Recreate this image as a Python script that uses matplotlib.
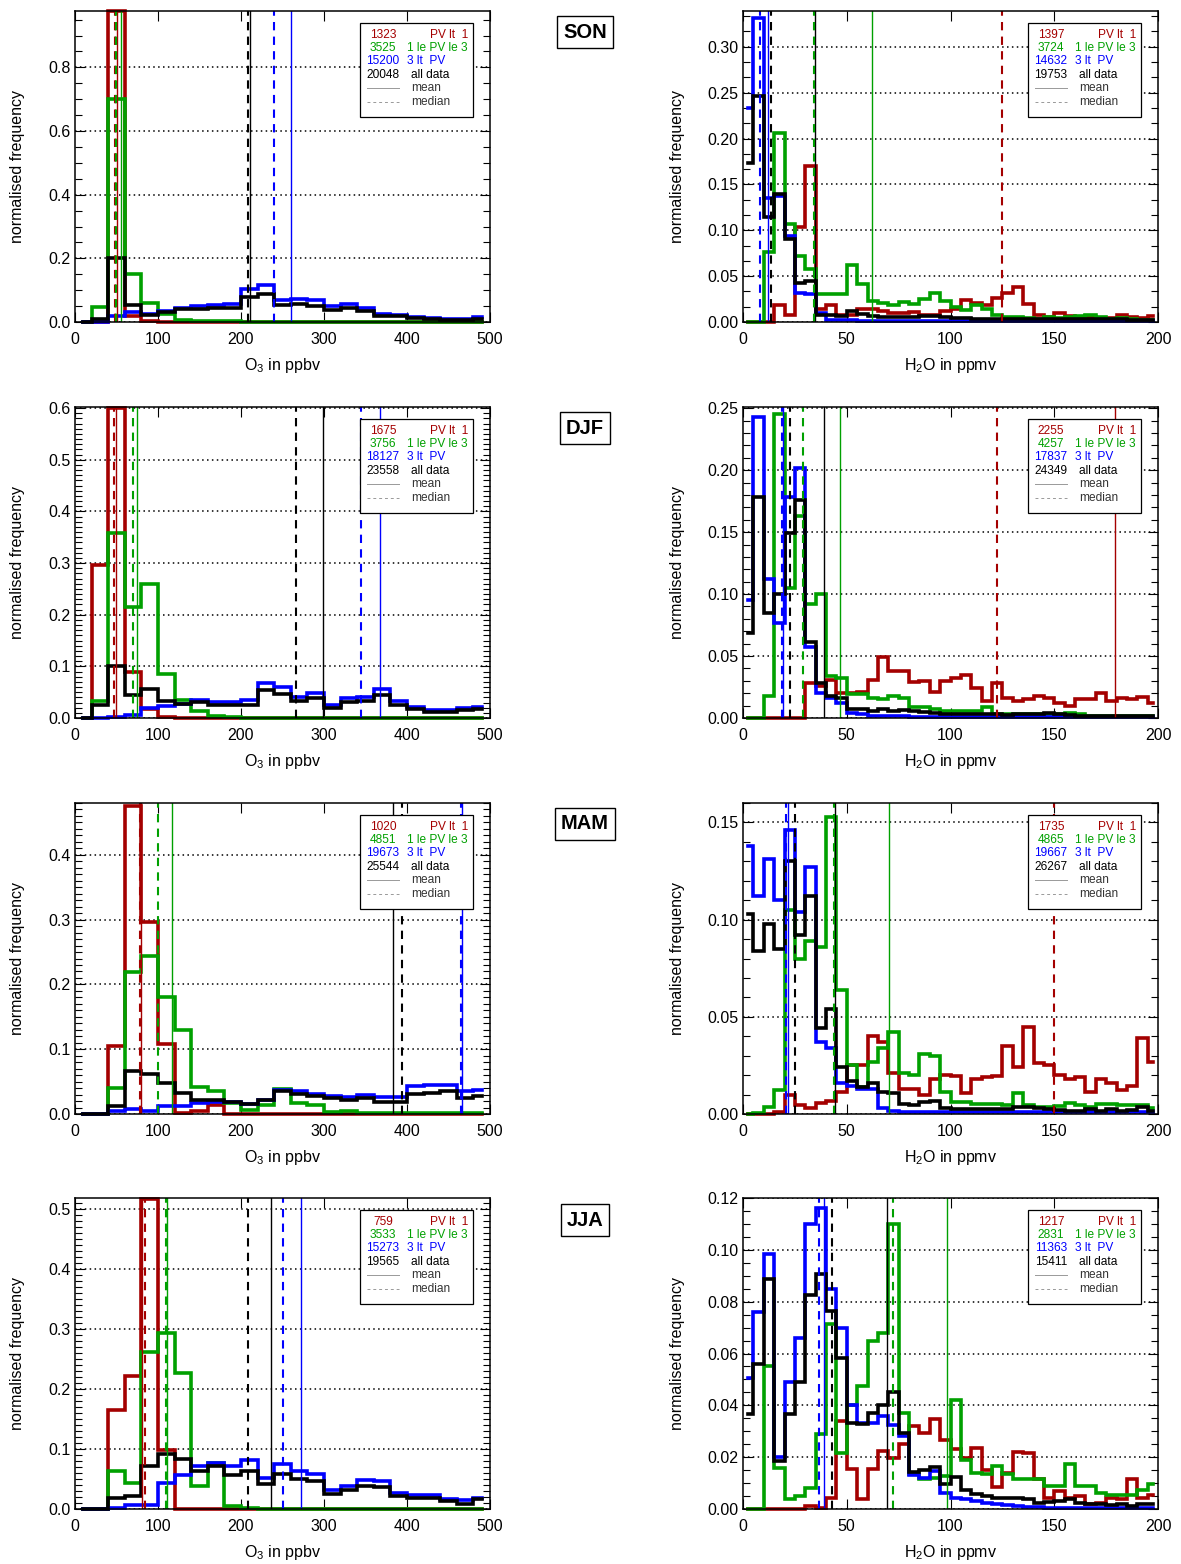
import numpy as np
import matplotlib
matplotlib.use("Agg")
import matplotlib.pyplot as plt
from matplotlib.ticker import MultipleLocator, FormatStrFormatter
from matplotlib.patches import Rectangle

plt.rcParams['font.family'] = ['Liberation Sans', 'DejaVu Sans']
plt.rcParams['mathtext.fontset'] = 'custom'
plt.rcParams['mathtext.rm'] = 'Liberation Sans'
plt.rcParams['mathtext.it'] = 'Liberation Sans:italic'
plt.rcParams['mathtext.bf'] = 'Liberation Sans:bold'

# ---------------------------------------------------------------- bins
o3_centres = np.arange(10, 500, 20)      # 20 ppbv bins, 0-500
h2o_centres = np.arange(2.5, 200, 5)     # 5 ppmv bins, 0-200

seasons = ['SON', 'DJF', 'MAM', 'JJA']
pv_classes = ['PV lt  1', '1 le PV le 3', '3 lt  PV', 'all data']
colours = ['#a40000', '#00a000', '#0000ff', '#000000']

# ---------------------------------------------------------------- SON
son_o3_low = [0, 0, 0.977, 0.02, 0.003] + [0] * 20
son_o3_mid = [0, 0.047, 0.70, 0.15, 0.06, 0.025, 0.005, 0.003, 0.002, 0.002, 0.001] + [0] * 14
son_o3_high = [0, 0, 0.02, 0.031, 0.025, 0.033, 0.045, 0.05, 0.052, 0.055, 0.105, 0.115, 0.068,
               0.072, 0.068, 0.05, 0.055, 0.045, 0.025, 0.022, 0.015, 0.012, 0.008, 0.008, 0.015]
son_o3_all = [0, 0.008, 0.20, 0.053, 0.023, 0.032, 0.04, 0.042, 0.045, 0.045, 0.08, 0.088, 0.052,
              0.055, 0.05, 0.038, 0.043, 0.035, 0.02, 0.018, 0.012, 0.01, 0.006, 0.007, 0.01]

son_h2o_low = [0, 0, 0, 0.019, 0.0072, 0.104, 0.170, 0.014, 0.019, 0.008, 0.008, 0.0145, 0.0145,
               0.012, 0.010, 0.010, 0.011, 0.008, 0.008, 0.012, 0.0145, 0.024, 0.021, 0.019, 0.026,
               0.032, 0.038, 0.020, 0.008, 0.005, 0.010, 0.006, 0.005, 0.005, 0.004, 0.004, 0.008,
               0.005, 0.004, 0.0065]
son_h2o_mid = [0, 0, 0.076, 0.206, 0.107, 0.072, 0.058, 0.031, 0.030, 0.030, 0.062, 0.041, 0.023,
               0.021, 0.018, 0.022, 0.020, 0.025, 0.032, 0.023, 0.016, 0.013, 0.018, 0.014, 0.008,
               0.005, 0.005, 0.004, 0.003, 0.005, 0.004, 0.005, 0.0065, 0.008, 0.005, 0.003, 0.004,
               0.003, 0.002, 0.002]
son_h2o_high = [0.233, 0.331, 0.135, 0.137, 0.094, 0.032, 0.031, 0.010, 0.002, 0.002, 0.002, 0.0015,
                0.0015, 0.001, 0.001, 0.001, 0.001, 0.001, 0.001, 0.001, 0.001, 0.001, 0.001, 0.001,
                0.001, 0.001, 0.001, 0.001, 0.001, 0.001, 0.001, 0.001, 0.001, 0.001, 0.001, 0.001,
                0.001, 0.001, 0.001, 0.001]
son_h2o_all = [0.173, 0.246, 0.114, 0.139, 0.091, 0.043, 0.045, 0.008, 0.008, 0.007, 0.012, 0.009,
               0.006, 0.005, 0.005, 0.0055, 0.005, 0.0065, 0.007, 0.005, 0.004, 0.004, 0.0035,
               0.0035, 0.003, 0.003, 0.003, 0.0035, 0.003, 0.003, 0.003, 0.003, 0.003, 0.0035,
               0.003, 0.003, 0.003, 0.0025, 0.0025, 0.0025]

# ---------------------------------------------------------------- DJF
djf_o3_low = [0, 0.297, 0.6, 0.090, 0.017, 0.002] + [0] * 19
djf_o3_mid = [0, 0.032, 0.359, 0.214, 0.259, 0.086, 0.034, 0.013, 0.004, 0.002] + [0] * 15
djf_o3_high = [0, 0, 0.001, 0.005, 0.019, 0.023, 0.028, 0.034, 0.031, 0.031, 0.034, 0.068, 0.060,
               0.041, 0.048, 0.025, 0.039, 0.041, 0.057, 0.032, 0.021, 0.015, 0.015, 0.019, 0.021]
djf_o3_all = [0, 0.025, 0.100, 0.044, 0.057, 0.032, 0.028, 0.031, 0.026, 0.026, 0.026, 0.054, 0.046,
              0.032, 0.039, 0.019, 0.031, 0.032, 0.044, 0.026, 0.018, 0.012, 0.012, 0.016, 0.018]

djf_h2o_low = [0, 0, 0, 0, 0, 0, 0.028, 0.026, 0.031, 0.020, 0.020, 0.021, 0.031, 0.049, 0.038,
               0.038, 0.029, 0.030, 0.021, 0.030, 0.032, 0.035, 0.024, 0.014, 0.028, 0.016, 0.014,
               0.015, 0.018, 0.016, 0.012, 0.0095, 0.015, 0.015, 0.020, 0.014, 0.016, 0.015, 0.017,
               0.012]
djf_h2o_mid = [0, 0, 0.018, 0.245, 0.105, 0.163, 0.092, 0.100, 0.034, 0.032, 0.019, 0.019, 0.016,
               0.015, 0.018, 0.016, 0.009, 0.0085, 0.007, 0.006, 0.0055, 0.006, 0.006, 0.0085,
               0.003, 0.003, 0.003, 0.003, 0.0035, 0.003, 0.003, 0.004, 0.003, 0.002, 0.002, 0.002,
               0.0015, 0.0015, 0.0015, 0.0015]
djf_h2o_high = [0.095, 0.243, 0.112, 0.077, 0.178, 0.202, 0.057, 0.020, 0.016, 0.012, 0.004, 0.003,
                0.002, 0.002, 0.0015, 0.0015, 0.001, 0.001, 0.001, 0.001, 0.001, 0.001, 0.001,
                0.001, 0.001, 0.001, 0.001, 0.001, 0.001, 0.001, 0.001, 0.001, 0.001, 0.001, 0.001,
                0.001, 0.001, 0.001, 0.001, 0.001]
djf_h2o_all = [0.069, 0.178, 0.085, 0.100, 0.149, 0.176, 0.061, 0.028, 0.018, 0.016, 0.007, 0.007,
               0.006, 0.0075, 0.006, 0.0068, 0.0055, 0.0045, 0.004, 0.003, 0.003, 0.003, 0.003,
               0.003, 0.003, 0.0025, 0.003, 0.003, 0.0035, 0.004, 0.003, 0.0025, 0.002, 0.002,
               0.002, 0.002, 0.002, 0.002, 0.002, 0.002]

# ---------------------------------------------------------------- MAM
mam_o3_low = [0, 0, 0.105, 0.476, 0.296, 0.108, 0.001, 0.004, 0.014] + [0] * 16
mam_o3_mid = [0, 0, 0.040, 0.219, 0.244, 0.180, 0.129, 0.041, 0.036, 0.017, 0.0067, 0.014, 0.038,
              0.017, 0.014, 0.0026, 0.004, 0.002, 0.001, 0.001, 0.001, 0.001, 0.001, 0.001, 0.001]
mam_o3_high = [0, 0, 0.004, 0.007, 0.005, 0.012, 0.013, 0.017, 0.018, 0.019, 0.016, 0.022, 0.037,
               0.036, 0.031, 0.028, 0.027, 0.030, 0.027, 0.027, 0.043, 0.044, 0.045, 0.035, 0.037]
mam_o3_all = [0, 0, 0.013, 0.066, 0.062, 0.048, 0.032, 0.022, 0.022, 0.018, 0.015, 0.022, 0.036,
              0.031, 0.028, 0.025, 0.022, 0.025, 0.019, 0.019, 0.031, 0.032, 0.035, 0.025, 0.028]

mam_h2o_low = [0, 0, 0, 0.0012, 0.0098, 0.0046, 0.003, 0.0055, 0.0069, 0.0115, 0.025, 0.025, 0.040,
               0.037, 0.021, 0.013, 0.013, 0.0098, 0.018, 0.020, 0.0196, 0.011, 0.018, 0.019,
               0.0196, 0.035, 0.024, 0.045, 0.026, 0.025, 0.020, 0.018, 0.019, 0.0115, 0.018, 0.016,
               0.0124, 0.0146, 0.039, 0.027]
mam_h2o_mid = [0, 0.0003, 0.0038, 0.0124, 0.105, 0.080, 0.089, 0.086, 0.153, 0.064, 0.025, 0.014,
               0.027, 0.034, 0.042, 0.021, 0.020, 0.031, 0.030, 0.0115, 0.0063, 0.006, 0.005, 0.005,
               0.005, 0.0046, 0.011, 0.0046, 0.0038, 0.0038, 0.004, 0.0055, 0.0046, 0.0038, 0.005,
               0.005, 0.0046, 0.0046, 0.0046, 0.003]
mam_h2o_high = [0.138, 0.112, 0.131, 0.110, 0.146, 0.104, 0.127, 0.037, 0.034, 0.016, 0.0144, 0.0127,
                0.0127, 0.003, 0.0017, 0.001, 0.001, 0.001, 0.001, 0.001, 0.001, 0.001, 0.001,
                0.001, 0.001, 0.001, 0.001, 0.001, 0.001, 0.001, 0.001, 0.001, 0.001, 0.001, 0.001,
                0.001, 0.001, 0.001, 0.001, 0.001]
mam_h2o_all = [0.103, 0.084, 0.098, 0.085, 0.130, 0.092, 0.112, 0.044, 0.054, 0.024, 0.017, 0.014,
               0.016, 0.0115, 0.0106, 0.005, 0.0046, 0.0063, 0.0067, 0.003, 0.0024, 0.0025, 0.0025,
               0.0025, 0.0025, 0.0025, 0.0038, 0.0038, 0.003, 0.0024, 0.002, 0.0017, 0.0017,
               0.0024, 0.0017, 0.0024, 0.0017, 0.002, 0.0038, 0.0017]

# ---------------------------------------------------------------- JJA
jja_o3_low = [0, 0, 0.165, 0.222, 0.517, 0.099] + [0] * 19
jja_o3_mid = [0, 0, 0.063, 0.044, 0.262, 0.293, 0.227, 0.038, 0.076, 0.0056, 0.001] + [0] * 14
jja_o3_high = [0, 0, 0.001, 0.007, 0.007, 0.043, 0.056, 0.071, 0.076, 0.071, 0.081, 0.052, 0.075,
               0.064, 0.058, 0.031, 0.039, 0.049, 0.047, 0.026, 0.024, 0.024, 0.017, 0.015, 0.018]
jja_o3_all = [0, 0, 0.018, 0.022, 0.072, 0.091, 0.083, 0.064, 0.071, 0.057, 0.063, 0.042, 0.059,
              0.050, 0.047, 0.025, 0.032, 0.039, 0.036, 0.021, 0.019, 0.019, 0.014, 0.009, 0.017]

jja_h2o_low = [0, 0, 0, 0, 0, 0, 0.0012, 0.0005, 0.0044, 0.034, 0.0153, 0.0037, 0.0153, 0.0224,
               0.0198, 0.025, 0.032, 0.0294, 0.0346, 0.0265, 0.023, 0.0198, 0.0237, 0.0149, 0.0085,
               0.014, 0.0221, 0.0217, 0.0114, 0.0044, 0.0069, 0.0044, 0.005, 0.0018, 0.0024,
               0.0044, 0.0037, 0.0114, 0.0044, 0.0054]
jja_h2o_mid = [0, 0, 0.055, 0.016, 0.0037, 0.005, 0.008, 0.029, 0.0713, 0.0217, 0.040, 0.0475,
               0.0648, 0.068, 0.110, 0.037, 0.0134, 0.0114, 0.0121, 0.0127, 0.042, 0.019, 0.014,
               0.0136, 0.0166, 0.0134, 0.0114, 0.0114, 0.0114, 0.0089, 0.0089, 0.0175, 0.0089,
               0.0089, 0.0063, 0.0054, 0.0054, 0.0054, 0.0072, 0.0095]
jja_h2o_high = [0.0507, 0.0761, 0.0983, 0.020, 0.049, 0.066, 0.110, 0.116, 0.085, 0.070, 0.040,
                0.033, 0.033, 0.036, 0.0324, 0.028, 0.013, 0.012, 0.0147, 0.0063, 0.0041, 0.0037,
                0.0031, 0.0025, 0.002, 0.0015, 0.0012, 0.0008, 0.0006, 0.0005, 0.0005, 0.0005,
                0.0005, 0.0005, 0.0005, 0.0005, 0.0005, 0.0005, 0.0005, 0.0005]
jja_h2o_all = [0.0368, 0.056, 0.0886, 0.0185, 0.0368, 0.049, 0.0826, 0.0908, 0.0764, 0.0584, 0.033,
               0.0327, 0.0372, 0.040, 0.0453, 0.0294, 0.0144, 0.0149, 0.0162, 0.0095, 0.0123,
               0.0072, 0.0057, 0.005, 0.0044, 0.0041, 0.0041, 0.0037, 0.0024, 0.0028, 0.0031,
               0.0037, 0.0024, 0.002, 0.0018, 0.0015, 0.0018, 0.0012, 0.0018, 0.002]

# ---------------------------------------------------------------- sample counts
counts_o3 = {'SON': [1323, 3525, 15200, 20048], 'DJF': [1675, 3756, 18127, 23558],
             'MAM': [1020, 4851, 19673, 25544], 'JJA': [759, 3533, 15273, 19565]}
counts_h2o = {'SON': [1397, 3724, 14632, 19753], 'DJF': [2255, 4257, 17837, 24349],
              'MAM': [1735, 4865, 19667, 26267], 'JJA': [1217, 2831, 11363, 15411]}

# ---------------------------------------------------------------- means / medians (None: off scale)
mean_o3 = {'SON': [51, 56, 260, 211], 'DJF': [49, 74.3, 368, 299],
           'MAM': [80, 117.3, 466, 383.5], 'JJA': [81, 110.4, 272.3, 235.7]}
median_o3 = {'SON': [48, 49, 240, 209], 'DJF': [47, 69.5, 344, 266],
             'MAM': [78.3, 99.6, 465, 393.6], 'JJA': [84.3, 109.2, 250.2, 208]}
mean_h2o = {'SON': [None, 62.1, 12.0, 34.8], 'DJF': [179.2, 46.8, 19.3, 38.8],
            'MAM': [None, 70.4, 21.5, 44.4], 'JJA': [None, 98.5, 38.8, 69.6]}
median_h2o = {'SON': [124.6, 34.0, 8.3, 13.6], 'DJF': [122.2, 28.9, 19.0, 22.8],
              'MAM': [150.0, 43.9, 20.9, 25.2], 'JJA': [None, 72.2, 36.4, 42.8]}

o3_hist = {'SON': [son_o3_low, son_o3_mid, son_o3_high, son_o3_all],
           'DJF': [djf_o3_low, djf_o3_mid, djf_o3_high, djf_o3_all],
           'MAM': [mam_o3_low, mam_o3_mid, mam_o3_high, mam_o3_all],
           'JJA': [jja_o3_low, jja_o3_mid, jja_o3_high, jja_o3_all]}
h2o_hist = {'SON': [son_h2o_low, son_h2o_mid, son_h2o_high, son_h2o_all],
            'DJF': [djf_h2o_low, djf_h2o_mid, djf_h2o_high, djf_h2o_all],
            'MAM': [mam_h2o_low, mam_h2o_mid, mam_h2o_high, mam_h2o_all],
            'JJA': [jja_h2o_low, jja_h2o_mid, jja_h2o_high, jja_h2o_all]}

# axis scaling per panel: (ytop, major, minor, format)
o3_yaxis = {'SON': (0.977, 0.2, 0.05, '%.1f'), 'DJF': (0.602, 0.1, 0.01, '%.1f'),
            'MAM': (0.48, 0.1, 0.01, '%.1f'), 'JJA': (0.519, 0.1, 0.01, '%.1f')}
h2o_yaxis = {'SON': (0.339, 0.05, 0.05 / 3, '%.2f'), 'DJF': (0.251, 0.05, 0.01, '%.2f'),
             'MAM': (0.160, 0.05, 0.01, '%.2f'), 'JJA': (0.120, 0.02, 0.005, '%.2f')}

# ---------------------------------------------------------------- figure
W, H = 1181, 1564
fig = plt.figure(figsize=(W / 100, H / 100), dpi=100)

ax_w = 415 / W
ax_h = 311 / H
row_tops = [11, 407, 803, 1198]
col_lefts = [75, 743]
label_y = [32, 428, 824, 1220]


def draw_legend(ax, counts):
    ax.add_patch(Rectangle((0.687, 0.659), 0.272, 0.302, transform=ax.transAxes,
                           facecolor='white', edgecolor='black', lw=0.9, zorder=10))
    rows = [0.923, 0.881, 0.839, 0.794, 0.752, 0.707]
    fs = 8.6
    for i in range(4):
        ax.text(0.742, rows[i], str(counts[i]), color=colours[i], fontsize=fs,
                ha='center', va='center', transform=ax.transAxes, zorder=11)
    ax.text(0.947, rows[0], pv_classes[0], color=colours[0], fontsize=fs,
            ha='right', va='center', transform=ax.transAxes, zorder=11)
    ax.text(0.947, rows[1], pv_classes[1], color=colours[1], fontsize=fs,
            ha='right', va='center', transform=ax.transAxes, zorder=11)
    ax.text(0.800, rows[2], pv_classes[2], color=colours[2], fontsize=fs,
            ha='left', va='center', transform=ax.transAxes, zorder=11)
    ax.text(0.810, rows[3], pv_classes[3], color=colours[3], fontsize=fs,
            ha='left', va='center', transform=ax.transAxes, zorder=11)
    ax.text(0.810, rows[4], 'mean', color='#333333', fontsize=fs,
            ha='left', va='center', transform=ax.transAxes, zorder=11)
    ax.text(0.810, rows[5], 'median', color='#333333', fontsize=fs,
            ha='left', va='center', transform=ax.transAxes, zorder=11)
    ax.plot([0.704, 0.781], [rows[4], rows[4]], color='#999999', lw=0.7,
            transform=ax.transAxes, zorder=11)
    ax.plot([0.704, 0.781], [rows[5], rows[5]], color='#999999', lw=0.7,
            linestyle=(0, (3, 3)), transform=ax.transAxes, zorder=11)


def draw_panel(ax, centres, hists, means, medians, xmax, xmajor, yaxis, counts,
               xlabel, ylab_x):
    ytop, ymaj, ymin, yfmt = yaxis
    for vals, col, z in zip(hists, colours, [3, 4, 5, 6]):
        ax.step(centres, vals, where='mid', color=col, lw=2.6, zorder=z,
                clip_on=False, solid_joinstyle='miter')
    for val, col in zip(means, colours):
        if val is not None:
            ax.axvline(val, color=col, lw=1.0, zorder=7)
    for val, col in zip(medians, colours):
        if val is not None:
            ax.axvline(val, color=col, lw=1.5, linestyle=(0, (4, 3)), zorder=7)

    ax.set_xlim(0, xmax)
    ax.set_ylim(0, ytop)
    ax.xaxis.set_major_locator(MultipleLocator(xmajor))
    ax.yaxis.set_major_locator(MultipleLocator(ymaj))
    ax.yaxis.set_minor_locator(MultipleLocator(ymin))
    ax.yaxis.set_major_formatter(FormatStrFormatter(yfmt))
    ax.tick_params(which='both', direction='in', top=True, right=True, width=0.8)
    ax.tick_params(which='major', length=7.5, labelsize=11.5)
    ax.tick_params(which='minor', length=5)
    ax.tick_params(axis='x', pad=7)
    ax.tick_params(axis='y', pad=3)
    ax.grid(axis='y', which='major', linestyle=(0, (1, 2.2)), color='black', lw=1.1, zorder=1)
    for sp in ax.spines.values():
        sp.set_linewidth(1.1)
        sp.set_zorder(8)

    ax.set_xlabel(xlabel, fontsize=11.5)
    ax.xaxis.set_label_coords(0.5, -0.11)
    ax.set_ylabel('normalised frequency', fontsize=11.5)
    ax.yaxis.set_label_coords(ylab_x, 0.5)
    draw_legend(ax, counts)


for r, season in enumerate(seasons):
    bottom = 1 - (row_tops[r] + 311) / H
    ax_o3 = fig.add_axes([col_lefts[0] / W, bottom, ax_w, ax_h])
    draw_panel(ax_o3, o3_centres, o3_hist[season], mean_o3[season], median_o3[season],
               500, 100, o3_yaxis[season], counts_o3[season],
               r'$\mathrm{O_3}$ in ppbv', -0.12)
    ax_h2o = fig.add_axes([col_lefts[1] / W, bottom, ax_w, ax_h])
    draw_panel(ax_h2o, h2o_centres, h2o_hist[season], mean_h2o[season], median_h2o[season],
               200, 50, h2o_yaxis[season], counts_h2o[season],
               r'$\mathrm{H_2O}$ in ppmv', -0.14)

    fig.text(585 / W, 1 - label_y[r] / H, season, ha='center', va='center',
             fontsize=14.5, fontweight='bold',
             bbox=dict(boxstyle='square,pad=0.3', facecolor='white', edgecolor='black', lw=1.0))

fig.savefig('out.png', dpi=100)
